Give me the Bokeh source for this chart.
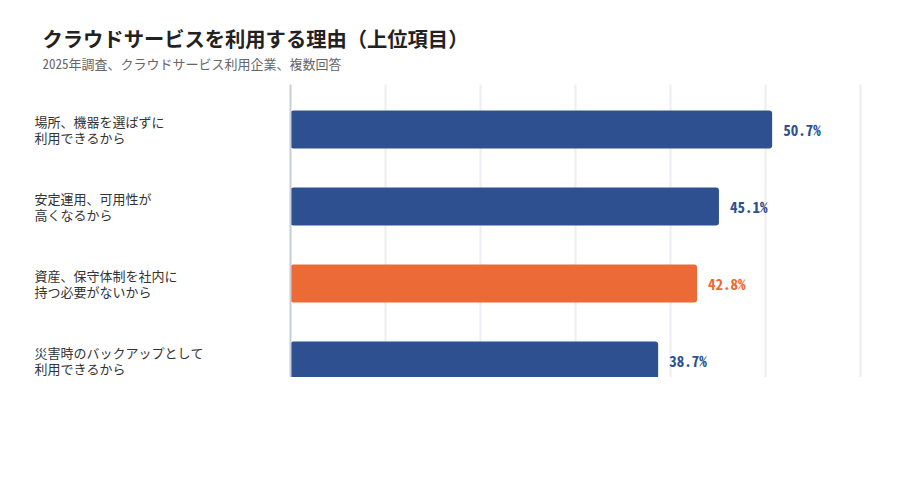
from jinja2 import Template
from bokeh.plotting import figure
from bokeh.models import ColumnDataSource, Range1d
from bokeh.embed import file_html
from bokeh.resources import INLINE
from bokeh.core.properties import value

title = "クラウドサービスを利用する理由（上位項目）"
subtitle = "2025年調査、クラウドサービス利用企業、複数回答"
categories = [
    "場所、機器を選ばずに\n利用できるから",
    "安定運用、可用性が\n高くなるから",
    "資産、保守体制を社内に\n持つ必要がないから",
    "災害時のバックアップとして\n利用できるから",
]
values = [50.7, 45.1, 42.8, 38.7]
highlight = [False, False, True, False]
x_ticks = [10, 20, 30, 40, 50, 60]

BLUE = "#2E5090"
ORANGE = "#EB6A36"
FONT = "Noto Sans Mono CJK JP, Noto Sans CJK JP, sans-serif"

# canvas layout (pixels)
W, H = 908, 480
X0_PX = 290          # pixel position of 0%
PX_PER_UNIT = 9.5    # pixels per percentage point
Y0_PX = 129          # centre of first bar
BAND_PX = 77         # distance between bars
BAR_PX = 38          # bar thickness
PLOT_TOP_PX = 84

x_start = -X0_PX / PX_PER_UNIT
x_end = (W - X0_PX) / PX_PER_UNIT
y_top = -Y0_PX / BAND_PX
y_bottom = (H - Y0_PX) / BAND_PX
grid_top = -(Y0_PX - PLOT_TOP_PX) / BAND_PX
grid_bottom = len(categories) - 1 + (Y0_PX - PLOT_TOP_PX) / BAND_PX

n = len(categories)
src = ColumnDataSource(dict(
    y=list(range(n)),
    v=values,
    cat=categories,
    label=[f"{v:.1f}%" for v in values],
    color=[ORANGE if h else BLUE for h in highlight],
    lx=[x_start] * n,
))

p = figure(width=W, height=H, x_range=Range1d(x_start, x_end),
           y_range=Range1d(y_bottom, y_top),
           output_backend="svg", toolbar_location=None, title=None,
           min_border=0, min_border_left=0, min_border_right=0,
           min_border_top=0, min_border_bottom=0)
p.outline_line_color = None
p.background_fill_color = "white"
p.border_fill_color = "white"
p.axis.visible = False
p.grid.visible = False

# vertical gridlines
p.segment(x0=x_ticks, x1=x_ticks, y0=[grid_top] * len(x_ticks), y1=[grid_bottom] * len(x_ticks),
          line_color="#EEEEF4", line_width=2)
# bars
p.hbar(y="y", right="v", left=0, height=BAR_PX / BAND_PX, fill_color="color",
       line_color=None, border_radius=3, source=src)
# axis line at 0
p.segment(x0=[0], x1=[0], y0=[grid_top], y1=[grid_bottom], line_color="#C8CDDA", line_width=2)

# value labels
p.text(x="v", y="y", text="label", x_offset=11, text_baseline="middle", text_align="left",
       text_color="color", text_font=value(FONT), text_font_size="15px",
       text_font_style="bold", source=src)

# category labels
p.text(x="lx", y="y", text="cat", x_offset=34, text_baseline="middle", text_align="left",
       text_color="#333333", text_font=value(FONT), text_font_size="13px",
       text_line_height=0.88, source=src)

# title and subtitle
p.text(x=[x_start], y=[y_top], text=[title], x_offset=42, y_offset=37,
       text_baseline="middle", text_align="left", text_color="#222222",
       text_font=value(FONT), text_font_size="20.3px", text_font_style="bold")
p.text(x=[x_start], y=[y_top], text=[subtitle], x_offset=42, y_offset=63,
       text_baseline="middle", text_align="left", text_color="#666666",
       text_font=value(FONT), text_font_size="13px")

template = Template("""<!DOCTYPE html>
<html lang="ja">
<head>
<meta charset="utf-8">
<title>{{ title }}</title>
<style>
.sc { position:absolute; left:0; top:0; width:885px; height:377px; overflow:auto; }
</style>
{{ bokeh_css }}
{{ bokeh_js }}
</head>
<body>
<div class="sc">
{{ plot_div }}
</div>
{{ plot_script }}
</body>
</html>
""")

open("out.html", "w").write(file_html(p, INLINE, template=template))
